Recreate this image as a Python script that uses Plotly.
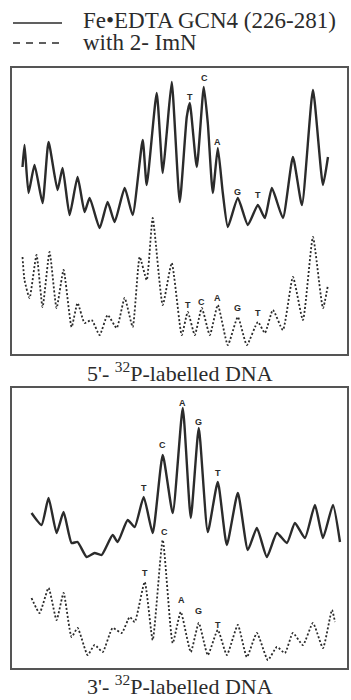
import plotly.graph_objects as go
from plotly.subplots import make_subplots

# ---------------- data (position along gel, relative signal) ----------------
# 5'-labelled DNA panel
top_solid_pos = [11, 13, 17, 23, 31, 37, 46, 51, 58, 66, 73, 78, 88, 96, 103, 113, 121, 131, 135,
                 145, 151, 155, 160, 168, 175, 178, 185, 192, 196, 201, 206, 211, 216, 226, 236,
                 246, 253, 260, 271, 281, 290, 301, 311, 316]
top_solid_sig = [186, 208, 160, 188, 150, 211, 163, 185, 138, 176, 141, 155, 125, 151, 131, 165, 138, 213, 168,
                 260, 180, 220, 271, 151, 236, 250, 186, 266, 230, 160, 205, 160, 126, 155, 128,
                 148, 135, 165, 135, 196, 148, 263, 168, 196]

top_dash_pos = [11, 13, 18, 25, 31, 38, 45, 52, 60, 66, 73, 80, 88, 96, 105, 113, 121, 128, 135,
                141, 151, 160, 170, 176, 183, 190, 198, 206, 216, 226, 235, 246, 253, 261, 271,
                281, 291, 301, 311, 316]
top_dash_sig = [96, 73, 55, 98, 46, 101, 45, 83, 26, 50, 30, 33, 18, 38, 25, 55, 26, 96, 73,
                135, 48, 90, 18, 41, 18, 45, 18, 48, 8, 36, 8, 31, 20, 43, 23,
                76, 33, 116, 45, 68]

# 3'-labelled DNA panel
bot_solid_pos = [20, 30, 37, 45, 52, 60, 66, 75, 83, 90, 101, 106, 116, 123, 132, 141, 151, 161,
                 171, 179, 187, 196, 206, 215, 226, 236, 245, 255, 265, 275, 283, 293, 303,
                 311, 321, 328]
bot_solid_sig = [155, 143, 170, 135, 156, 125, 126, 111, 115, 113, 133, 126, 148, 141, 171, 135, 213, 155,
                 260, 150, 240, 136, 186, 123, 175, 118, 140, 111, 135, 125, 145, 130, 163,
                 130, 163, 126]

bot_dash_pos = [20, 28, 37, 45, 52, 60, 66, 76, 83, 91, 101, 110, 118, 123, 133, 141, 151, 161,
                169, 179, 187, 196, 206, 215, 226, 235, 245, 256, 265, 273, 281, 291, 301,
                311, 320, 323]
bot_dash_sig = [70, 55, 80, 48, 75, 31, 40, 13, 23, 16, 40, 35, 51, 46, 86, 28, 128, 25,
                56, 16, 45, 13, 38, 13, 43, 11, 35, 8, 21, 15, 35, 23, 45,
                20, 58, 46]

# base labels: (text, position, signal)
top_solid_labels = [("T", 178, 256), ("C", 193, 275), ("A", 206, 211), ("G", 226, 161), ("T", 246, 158)]
top_dash_labels = [("T", 176, 48), ("C", 190, 51), ("A", 206, 55), ("G", 226, 45), ("T", 246, 40)]
bot_solid_labels = [("T", 132, 180), ("C", 151, 223), ("A", 171, 265), ("G", 187, 246), ("T", 206, 195)]
bot_dash_labels = [("T", 133, 95), ("C", 153, 136), ("A", 170, 68), ("G", 187, 57), ("T", 206, 43)]

legend_names = ["Fe\u2022EDTA GCN4 (226-281)", "with 2- ImN"]
panel_titles = ["5'- <sup>32</sup>P-labelled DNA", "3'- <sup>32</sup>P-labelled DNA"]

# ---------------- figure ----------------
W, H = 351, 700
INK = "#2b2b2b"
fig = make_subplots(rows=2, cols=1)

solid_style = dict(color=INK, width=2.4, shape="spline", smoothing=0.5)
dash_style = dict(color=INK, width=1.8, dash="2px,2px", shape="spline", smoothing=0.5)

fig.add_trace(go.Scatter(x=top_solid_pos, y=top_solid_sig, mode="lines", line=solid_style,
                         name=legend_names[0], showlegend=False), row=1, col=1)
fig.add_trace(go.Scatter(x=top_dash_pos, y=top_dash_sig, mode="lines", line=dash_style,
                         name=legend_names[1], showlegend=False), row=1, col=1)
fig.add_trace(go.Scatter(x=bot_solid_pos, y=bot_solid_sig, mode="lines", line=solid_style,
                         name=legend_names[0], showlegend=False), row=2, col=1)
fig.add_trace(go.Scatter(x=bot_dash_pos, y=bot_dash_sig, mode="lines", line=dash_style,
                         name=legend_names[1], showlegend=False), row=2, col=1)

def px2x(px):
    return px / W

def px2y(py):
    return 1 - py / H

xdom = [px2x(11.5), px2x(347)]
axis_common = dict(showgrid=False, zeroline=False, showticklabels=False, ticks="",
                   showline=True, linecolor="#555555", linewidth=1.6, mirror=True, fixedrange=True)
fig.update_layout(
    xaxis=dict(domain=xdom, range=[0, 335], **axis_common),
    yaxis=dict(domain=[px2y(354), px2y(68)], range=[-1, 285], **axis_common),
    xaxis2=dict(domain=xdom, range=[0, 335], **axis_common),
    yaxis2=dict(domain=[px2y(668), px2y(388)], range=[0, 280], **axis_common),
)

annots = []
lab_font = dict(family="Liberation Sans", size=9, color=INK)
for labels, xr, yr in [(top_solid_labels, "x", "y"), (top_dash_labels, "x", "y"),
                       (bot_solid_labels, "x2", "y2"), (bot_dash_labels, "x2", "y2")]:
    for t, p, s in labels:
        annots.append(dict(text="<b>%s</b>" % t, x=p, y=s, xref=xr, yref=yr, showarrow=False,
                           font=lab_font, xanchor="center", yanchor="middle"))

serif = "Liberation Serif, Times New Roman, serif"
# legend text
annots.append(dict(text=legend_names[0], x=px2x(81), y=px2y(20), xref="paper", yref="paper",
                   showarrow=False, xanchor="left", yanchor="middle",
                   font=dict(family=serif, size=23, color=INK)))
annots.append(dict(text=legend_names[1], x=px2x(81), y=px2y(42), xref="paper", yref="paper",
                   showarrow=False, xanchor="left", yanchor="middle",
                   font=dict(family=serif, size=23, color=INK)))
# panel titles
annots.append(dict(text=panel_titles[0], x=px2x(180), y=px2y(372), xref="paper", yref="paper",
                   showarrow=False, xanchor="center", yanchor="middle",
                   font=dict(family=serif, size=22, color=INK)))
annots.append(dict(text=panel_titles[1], x=px2x(180), y=px2y(685), xref="paper", yref="paper",
                   showarrow=False, xanchor="center", yanchor="middle",
                   font=dict(family=serif, size=22, color=INK)))

shapes = [
    dict(type="line", xref="paper", yref="paper", x0=px2x(13), x1=px2x(62), y0=px2y(23), y1=px2y(23),
         line=dict(color=INK, width=1.6)),
    dict(type="line", xref="paper", yref="paper", x0=px2x(13), x1=px2x(62), y0=px2y(43), y1=px2y(43),
         line=dict(color=INK, width=1.6, dash="7px,6px")),
]

fig.update_layout(width=W, height=H, margin=dict(l=0, r=0, t=0, b=0),
                  paper_bgcolor="white", plot_bgcolor="white",
                  annotations=annots, shapes=shapes, showlegend=False)

fig.write_html("out.html", config={"displayModeBar": False},
               post_script="document.body.style.margin='0';document.body.style.padding='0';")
